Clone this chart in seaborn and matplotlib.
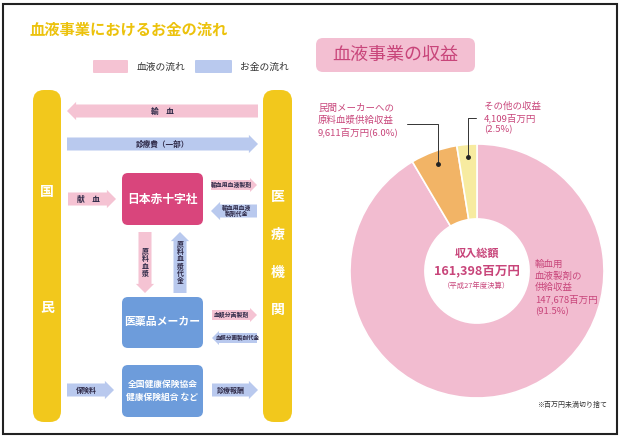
import pandas as pd
import seaborn as sns
import matplotlib.pyplot as plt
import matplotlib.patches as mpatches

W, H = 620, 437

# 血液事業の収益（百万円, 平成27年度決算）
rev_labels = ["輸血用\n血液製剤の\n供給収益", "民間メーカーへの\n原料血漿供給収益", "その他の収益"]
rev_values = [147678, 9611, 4109]
rev_share = [91.5, 6.0, 2.5]
total_value = 161398

rev_colors = ["#f2bcd0", "#f2b466", "#f7eba0"]
PINK_TXT = "#c8457a"
YELLOW = "#f2c81c"
BLOOD = "#f5c3d3"
MONEY = "#b9c9ee"
LABEL = "#2f2a48"

sns.set_style("white")
plt.rcParams["font.family"] = ["Noto Sans CJK JP", "DejaVu Sans"]

fig = plt.figure(figsize=(6.2, 4.37), dpi=100)
ax = fig.add_axes([0, 0, 1, 1])


def y(py):
    return H - py


def box(x0, y0, x1, y1, color, r=6, z=2):
    ax.add_patch(mpatches.FancyBboxPatch((x0, y(y1)), x1 - x0, y1 - y0,
                                         boxstyle=f"round,pad=0,rounding_size={r}",
                                         fc=color, ec="none", zorder=z))


def harrow(x0, x1, yc, h, color, text, fs=5, dx=0):
    ax.add_patch(mpatches.FancyArrow(x0, y(yc), x1 - x0, 0, width=h, head_width=h * 1.4,
                                     head_length=h * 0.7, length_includes_head=True,
                                     fc=color, ec="none", zorder=2))
    ax.text((x0 + x1) / 2 + dx, y(yc), text, ha="center", va="center", fontsize=fs,
            color=LABEL, fontweight="bold", zorder=3, linespacing=1.1)


def varrow(xc, y0, y1, w, color, text):
    ax.add_patch(mpatches.FancyArrow(xc, y(y0), 0, y(y1) - y(y0), width=w, head_width=w * 1.4,
                                     head_length=w * 0.7, length_includes_head=True,
                                     fc=color, ec="none", zorder=2))
    ax.text(xc, y((y0 + y1) / 2), "\n".join(text), ha="center", va="center", fontsize=5,
            color=LABEL, fontweight="bold", zorder=3, linespacing=1.05)


# ---- left: お金の流れ ----
ax.text(30, y(30), "血液事業におけるお金の流れ", fontsize=11, fontweight="bold",
        color="#ecc20c", ha="left", va="center")
box(93, 60, 128, 73, BLOOD, r=1)
ax.text(137, y(66.5), "血液の流れ", fontsize=7, color="#333", va="center")
box(195, 60, 232, 73, MONEY, r=1)
ax.text(240, y(66.5), "お金の流れ", fontsize=7, color="#333", va="center")

box(33, 90, 61, 422, YELLOW, r=11)
box(263, 90, 292, 422, YELLOW, r=11)
for ch, py in zip("国民", [192, 308]):
    ax.text(47, y(py), ch, fontsize=10, fontweight="bold", color="white", ha="center", va="center")
for ch, py in zip("医療機関", [197, 235, 273, 310]):
    ax.text(277.5, y(py), ch, fontsize=10, fontweight="bold", color="white", ha="center", va="center")

harrow(258, 67, 111, 13, BLOOD, "輸　血", fs=5.5)
harrow(67, 258, 144, 13, MONEY, "診療費（一部）", fs=5.5)
harrow(68, 116, 199, 13, BLOOD, "献　血", fs=5.5, dx=-4)

box(122, 173, 203, 225, "#d9457c")
ax.text(162.5, y(199), "日本赤十字社", fontsize=8.5, fontweight="bold", color="white",
        ha="center", va="center", zorder=3)
harrow(211, 257, 185, 10, BLOOD, "輸血用血液製剤", fs=4.2, dx=-3)
harrow(257, 211, 211, 13, MONEY, "輸血用血液\n製剤代金", fs=4.2, dx=3)

varrow(145, 232, 293, 13, BLOOD, "原料血漿")
varrow(180, 293, 232, 13, MONEY, "原料血漿代金")

box(122, 297, 203, 348, "#6d9cdb")
ax.text(162.5, y(322), "医薬品メーカー", fontsize=7.8, fontweight="bold", color="white",
        ha="center", va="center", zorder=3)
harrow(212, 257, 315, 10, BLOOD, "血漿分画製剤", fs=4.2, dx=-3)
harrow(257, 212, 338, 10, MONEY, "血漿分画製剤代金", fs=4.0, dx=3)

box(122, 365, 203, 417, "#6d9cdb")
ax.text(162.5, y(391), "全国健康保険協会\n健康保険組合 など", fontsize=6.3, fontweight="bold",
        color="white", ha="center", va="center", zorder=3, linespacing=1.6)
harrow(67, 114, 390, 13, MONEY, "保険料", fs=5, dx=-4)
harrow(212, 258, 390, 13, MONEY, "診療報酬", fs=5, dx=-4)

# ---- right: 収益 ----
box(316, 38, 475, 72, "#f3bfd2", r=7)
ax.text(395.5, y(55), "血液事業の収益", fontsize=13, color=PINK_TXT, ha="center", va="center")

df = pd.DataFrame({"label": rev_labels, "value": rev_values, "share": rev_share})
cx, cy, R = 477, 271, 127
wedges, _ = ax.pie(df["value"], colors=rev_colors, startangle=90, counterclock=False,
                   center=(cx, y(cy)), radius=R,
                   wedgeprops=dict(width=R * 0.59, edgecolor="white", linewidth=1.2))
ax.set_xlim(0, W)
ax.set_ylim(0, H)
ax.set_aspect("equal")
ax.axis("off")

import numpy as np
dots = []
for w in wedges:
    t = np.deg2rad((w.theta1 + w.theta2) / 2)
    dots.append((cx + 0.9 * R * np.cos(t), y(cy) + 0.9 * R * np.sin(t)))

# 民間メーカー
dx1, dy1 = dots[1]
ax.plot([407, dx1, dx1], [y(124), y(124), dy1], color="#333", lw=0.7, zorder=4)
ax.plot(dx1, dy1, "o", color="#222", ms=2.5, zorder=5)
ax.text(318, y(121), f"{df.label[1]}\n{df.value[1]:,}百万円({df.share[1]:.1f}%)",
        fontsize=6.8, color=PINK_TXT, ha="left", va="center", linespacing=1.35)
# その他
dx2, dy2 = dots[2]
ax.plot([476, dx2, dx2], [y(118), y(118), dy2], color="#333", lw=0.7, zorder=4)
ax.plot(dx2, dy2, "o", color="#222", ms=2.5, zorder=5)
ax.text(484, y(118), f"{df.label[2]}\n{df.value[2]:,}百万円\n({df.share[2]:.1f}%)",
        fontsize=6.8, color=PINK_TXT, ha="left", va="center", linespacing=1.35)

# 輸血用
ax.text(535, y(288), f"{df.label[0]}\n{df.value[0]:,}百万円\n({df.share[0]:.1f}%)",
        fontsize=6.8, color=PINK_TXT, ha="left", va="center", linespacing=1.35, zorder=5)

ax.text(cx, y(253), "収入総額", fontsize=8, fontweight="bold", color=PINK_TXT,
        ha="center", va="center", zorder=5)
ax.text(cx, y(271), f"{total_value:,}百万円", fontsize=9, fontweight="bold", color=PINK_TXT,
        ha="center", va="center", zorder=5)
ax.text(cx, y(286), "（平成27年度決算）", fontsize=5.3, color=PINK_TXT,
        ha="center", va="center", zorder=5)

ax.text(607, y(405), "※百万円未満切り捨て", fontsize=5, color="#333", ha="right", va="center")

# frame
ax.add_patch(mpatches.Rectangle((3, y(434)), 614, 430, fill=False, ec="#222", lw=1.5, zorder=6))

fig.savefig("out.png", dpi=100)
